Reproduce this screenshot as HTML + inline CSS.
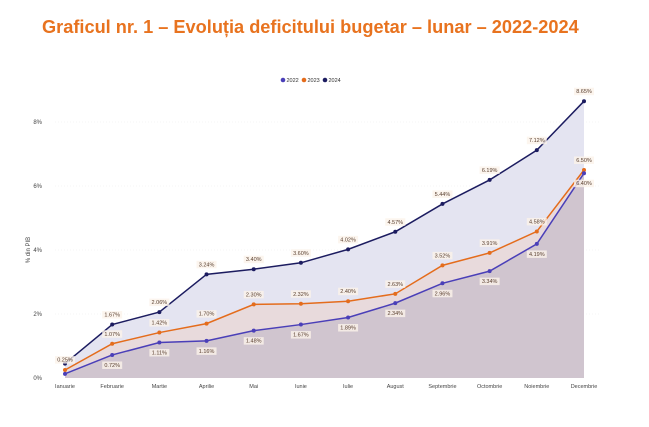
<!DOCTYPE html>
<html><head><meta charset="utf-8"><style>
body{margin:0;background:#fff;}
svg text{font-family:"Liberation Sans",sans-serif;}
</style></head><body>
<svg width="649" height="422" viewBox="0 0 649 422" xmlns="http://www.w3.org/2000/svg">
<text x="42" y="33" font-size="18.2" font-weight="bold" fill="#e8731f">Graficul nr. 1 – Evoluția deficitului bugetar – lunar – 2022-2024</text>
<g id="legend"></g>
<g id="grid"></g><g id="areas"></g><g id="lines"></g><g id="labels"></g><g id="axes"></g>
<text transform="translate(30,250) rotate(-90)" font-size="6" fill="#444" text-anchor="middle">% din PIB</text>
</svg>
<script>
const months=["Ianuarie","Februarie","Martie","Aprilie","Mai","Iunie","Iulie","August","Septembrie","Octombrie","Noiembrie","Decembrie"];
const s2022=[0.13,0.72,1.11,1.16,1.48,1.67,1.89,2.34,2.96,3.34,4.19,6.40];
const s2023=[0.25,1.07,1.42,1.70,2.30,2.32,2.40,2.63,3.52,3.91,4.58,6.50];
const s2024=[0.45,1.67,2.06,3.24,3.40,3.60,4.02,4.57,5.44,6.19,7.12,8.65];
const yTicks=[0,2,4,6,8];
const NS="http://www.w3.org/2000/svg";
const x=i=>65+i*(584-65)/11;
const y=v=>378-v*32;
function mk(tag,attrs,parent,txt){const e=document.createElementNS(NS,tag);for(const k in attrs)e.setAttribute(k,attrs[k]);if(txt!=null)e.textContent=txt;document.getElementById(parent).appendChild(e);return e;}
yTicks.forEach(t=>{
  if(t>0){const g=mk("line",{x1:55,x2:600,y1:y(t),y2:y(t),stroke:"#eee","stroke-width":0.6,"stroke-dasharray":"1,2"},"grid");
  
  }
  const l=mk("text",{x:42,y:y(t)+2,"font-size":6,fill:"#444","text-anchor":"end"},"axes",t+"%");
  
  
});
months.forEach((m,i)=>{
  const l=mk("text",{x:x(i),y:388,"font-size":5.5,fill:"#444","text-anchor":"middle"},"axes",m);
  
  
});
const series=[
 {name:"2024",d:s2024,line:"#1c1c60",fill:"#e4e4f1",pos:"above",skip0:true},
 {name:"2023",d:s2023,line:"#e46c1c",fill:"rgba(240,200,180,0.35)",pos:"above",skip0:false},
 {name:"2022",d:s2022,line:"#4a3fb8",fill:"#d0c5cf",pos:"below",skip0:true}];
series.forEach(s=>{
  const pts=s.d.map((v,i)=>x(i)+","+y(v)).join(" ");
  const a=mk("polygon",{points:x(0)+","+y(0)+" "+pts+" "+x(11)+","+y(0),fill:s.fill},"areas");
  
  
});
series.forEach(s=>{
  const pts=s.d.map((v,i)=>x(i)+","+y(v)).join(" ");
  const p=mk("polyline",{points:pts,fill:"none",stroke:s.line,"stroke-width":1.5},"lines");
  
  
  s.d.forEach((v,i)=>{
    const c=mk("circle",{cx:x(i),cy:y(v),r:2,fill:s.line},"lines");
    
    
    if(i===0&&s.skip0)return;
    let ly=s.pos==="above"?y(v)-8:y(v)+12;
    if(i===0)ly=y(s2024[0])-2;
    const txt=v.toFixed(2)+"%";
    const r=mk("rect",{x:x(i)-10,y:ly-5.5,width:20,height:7.5,fill:"#fbf3ea",opacity:0.8},"labels");
    
    
    const t=mk("text",{x:x(i),y:ly,"font-size":5.5,fill:"#5a4030","text-anchor":"middle"},"labels",txt);
    
    
  });
});
[["2022","#4a3fb8",283],["2023","#e46c1c",304],["2024","#1c1c60",325]].forEach(l=>{
  const c=mk("circle",{cx:l[2],cy:80,r:2.3,fill:l[1]},"legend");
  
  
  const t=mk("text",{x:l[2]+3.5,y:82,"font-size":5.5,fill:"#333"},"legend",l[0]);
  
  
});
</script>
</body></html>
